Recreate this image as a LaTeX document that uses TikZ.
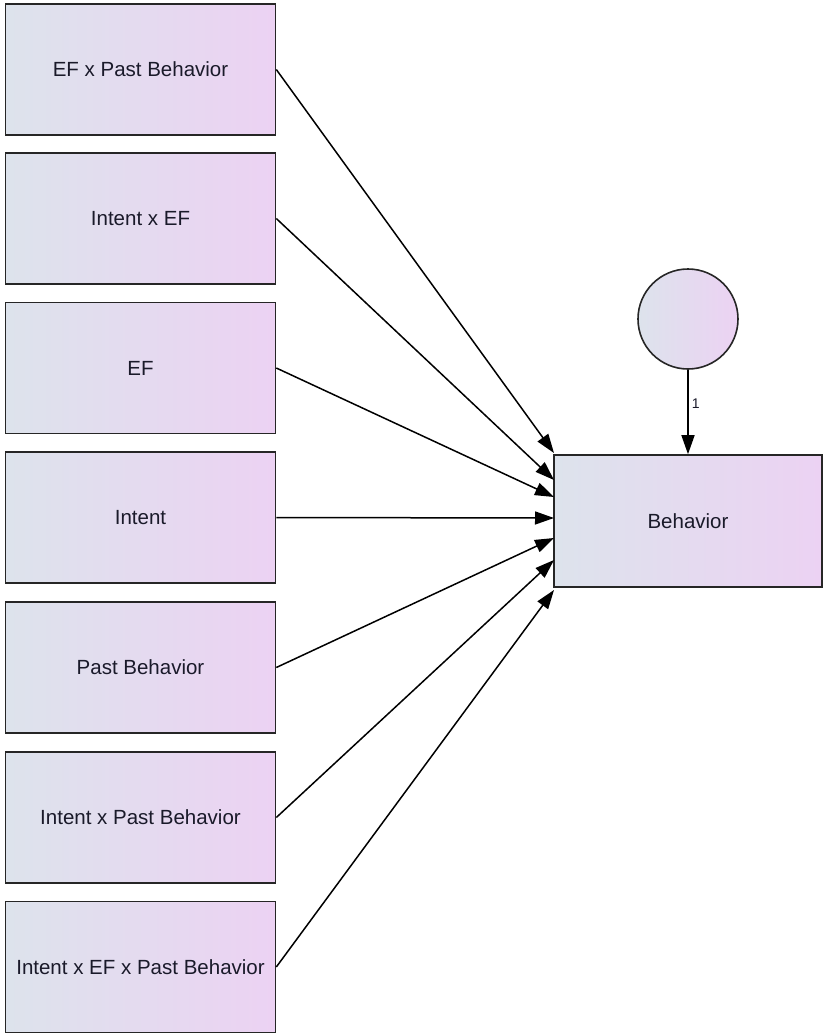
\documentclass[tikz,border=0pt]{standalone}
\usepackage{fontspec}
\setmainfont{Liberation Sans}
\usetikzlibrary{arrows.meta}
\definecolor{gleft}{HTML}{DDE3EC}
\definecolor{gright}{HTML}{ECD2F3}
\definecolor{txt}{HTML}{1A1A2A}
\tikzset{
  varbox/.style={draw=black!85, line width=1.6pt, left color=gleft, right color=gright,
    minimum width=270pt, minimum height=131pt, inner sep=0pt, text=txt,
    font=\fontsize{20.5}{24}\selectfont},
  errcirc/.style={circle, draw=black!85, line width=1.6pt, left color=gleft, right color=gright,
    minimum size=100pt, inner sep=0pt},
  path/.style={line width=1.5pt, -{Triangle[length=19pt,width=13pt]}}
}
\begin{document}
\begin{tikzpicture}[x=1pt,y=-1pt]
\useasboundingbox (0,0) rectangle (823,1034);
\node[varbox] (a1) at (140.5,69.5) {EF x Past Behavior};
\node[varbox] (a2) at (140.5,218.5) {Intent x EF};
\node[varbox] (a3) at (140.5,368) {EF};
\node[varbox] (a4) at (140.5,517.5) {Intent};
\node[varbox] (a5) at (140.5,667.5) {Past Behavior};
\node[varbox] (a6) at (140.5,817.5) {Intent x Past Behavior};
\node[varbox] (a7) at (140.5,967) {Intent x EF x Past Behavior};
\node[varbox, minimum width=268pt, minimum height=132pt] (b) at (688,521) {Behavior};
\node[errcirc] (e) at (688,319) {};
\coordinate (t1) at (554,453);
\coordinate (t2) at (554,480);
\coordinate (t3) at (554,497);
\coordinate (t4) at (554,518);
\coordinate (t5) at (554,538);
\coordinate (t6) at (554,560);
\coordinate (t7) at (554,590);
\foreach \i in {1,...,7} { \draw[path] (a\i.east) -- (t\i); }
\draw[path] (e.south) -- node[right, pos=0.4, inner sep=3pt, font=\fontsize{14}{16}\selectfont, text=txt] {1} (b.north);
\end{tikzpicture}
\end{document}
